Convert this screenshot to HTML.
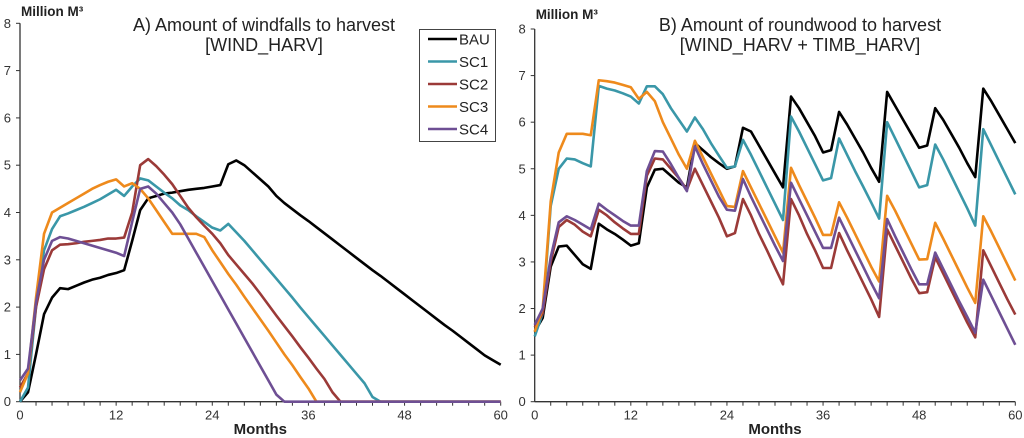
<!DOCTYPE html>
<html><head><meta charset="utf-8"><style>
html,body{margin:0;padding:0;background:#fff;}
svg{display:block;font-family:"Liberation Sans",Arial,sans-serif;}
</style></head><body>
<svg id="c" width="1024" height="438" viewBox="0 0 1024 438"></svg>
<script>
const months=[];for(let i=0;i<=60;i++)months.push(i);
const xTicks=[0,12,24,36,48,60];
const yTicks=[0,1,2,3,4,5,6,7,8];
const seriesNames=["BAU","SC1","SC2","SC3","SC4"];
const seriesColors=["#000000","#3a97a8","#9b3a38","#ee8a1c","#6e4f94"];
const aBAU=[0,0.2,1.0,1.85,2.2,2.4,2.38,2.45,2.52,2.58,2.62,2.68,2.72,2.78,3.4,4.05,4.3,4.35,4.4,4.42,4.45,4.48,4.5,4.52,4.55,4.58,5.02,5.1,5.0,4.85,4.7,4.55,4.35,4.2,4.07,3.94,3.82,3.69,3.56,3.43,3.3,3.17,3.04,2.91,2.78,2.66,2.53,2.4,2.27,2.14,2.01,1.88,1.75,1.62,1.5,1.37,1.24,1.11,0.98,0.88,0.78];
const aSC1=[0,0.3,2.0,3.2,3.65,3.92,3.98,4.05,4.12,4.2,4.28,4.38,4.48,4.35,4.55,4.72,4.68,4.55,4.42,4.3,4.15,4.05,3.92,3.8,3.68,3.62,3.76,3.58,3.4,3.2,3.0,2.8,2.6,2.4,2.2,1.99,1.79,1.59,1.39,1.19,0.99,0.79,0.59,0.39,0.1,0,0,0,0,0,0,0,0,0,0,0,0,0,0,0,0];
const aSC2=[0.3,0.6,2.0,2.8,3.2,3.32,3.33,3.35,3.38,3.4,3.42,3.45,3.45,3.47,4.0,5.0,5.13,4.98,4.8,4.6,4.35,4.1,3.9,3.72,3.55,3.35,3.1,2.9,2.7,2.5,2.28,2.05,1.82,1.6,1.38,1.15,0.93,0.7,0.48,0.2,0,0,0,0,0,0,0,0,0,0,0,0,0,0,0,0,0,0,0,0,0];
const aSC3=[0.2,0.6,2.2,3.55,4.0,4.1,4.2,4.3,4.4,4.5,4.58,4.65,4.7,4.55,4.62,4.5,4.3,4.05,3.8,3.55,3.55,3.55,3.55,3.48,3.2,2.95,2.7,2.47,2.22,1.98,1.74,1.5,1.25,1.0,0.77,0.52,0.28,0,0,0,0,0,0,0,0,0,0,0,0,0,0,0,0,0,0,0,0,0,0,0,0];
const aSC4=[0.45,0.7,2.1,3.0,3.4,3.48,3.45,3.4,3.35,3.3,3.25,3.2,3.15,3.08,3.8,4.5,4.55,4.4,4.2,4.0,3.75,3.45,3.15,2.85,2.55,2.25,1.95,1.65,1.35,1.05,0.75,0.45,0.15,0,0,0,0,0,0,0,0,0,0,0,0,0,0,0,0,0,0,0,0,0,0,0,0,0,0,0,0];
const bBAU=[1.5,1.8,2.9,3.33,3.35,3.15,2.95,2.85,3.82,3.7,3.6,3.48,3.35,3.4,4.6,4.98,5.0,4.85,4.7,4.6,5.55,5.4,5.25,5.12,5.0,5.05,5.88,5.8,5.5,5.2,4.9,4.6,6.55,6.3,6.0,5.7,5.35,5.4,6.22,5.95,5.65,5.35,5.02,4.72,6.65,6.35,6.05,5.75,5.45,5.5,6.3,6.05,5.75,5.45,5.12,4.82,6.72,6.45,6.15,5.85,5.55];
const bSC1=[1.4,1.9,4.2,5.0,5.22,5.2,5.12,5.05,6.78,6.72,6.68,6.62,6.55,6.4,6.77,6.77,6.6,6.3,6.05,5.8,6.1,5.85,5.55,5.28,5.02,5.05,5.62,5.3,4.95,4.6,4.25,3.9,6.12,5.8,5.45,5.1,4.75,4.8,5.65,5.3,4.95,4.62,4.28,3.93,6.0,5.65,5.3,4.95,4.6,4.65,5.52,5.2,4.85,4.5,4.15,3.78,5.85,5.5,5.15,4.8,4.45];
const bSC2=[1.6,1.9,3.0,3.75,3.9,3.8,3.65,3.55,4.12,4.0,3.85,3.72,3.6,3.6,4.85,5.22,5.2,5.0,4.8,4.55,5.0,4.65,4.3,3.95,3.55,3.62,4.35,4.0,3.6,3.25,2.88,2.52,4.35,4.0,3.6,3.25,2.87,2.87,3.62,3.25,2.9,2.55,2.2,1.82,3.7,3.35,3.0,2.65,2.33,2.35,3.1,2.75,2.4,2.05,1.7,1.38,3.25,2.9,2.55,2.2,1.87];
const bSC3=[1.5,2.0,4.3,5.35,5.75,5.75,5.75,5.72,6.9,6.88,6.85,6.8,6.75,6.5,6.65,6.45,6.0,5.65,5.3,5.0,5.6,5.25,4.9,4.55,4.2,4.18,4.95,4.6,4.25,3.9,3.55,3.2,5.02,4.65,4.3,3.95,3.58,3.58,4.28,3.95,3.6,3.25,2.9,2.58,4.42,4.1,3.75,3.4,3.05,3.06,3.84,3.5,3.15,2.8,2.45,2.12,3.98,3.65,3.3,2.95,2.6];
const bSC4=[1.65,2.0,3.1,3.85,3.98,3.9,3.8,3.7,4.25,4.12,4.0,3.88,3.78,3.78,4.95,5.38,5.37,5.1,4.8,4.52,5.48,5.1,4.75,4.4,4.12,4.1,4.78,4.4,4.05,3.7,3.35,3.02,4.7,4.35,4.0,3.65,3.3,3.3,3.95,3.6,3.25,2.9,2.55,2.22,3.92,3.55,3.2,2.85,2.52,2.52,3.2,2.85,2.5,2.15,1.82,1.48,2.62,2.27,1.92,1.57,1.22];

const NS="http://www.w3.org/2000/svg";
const svg=document.getElementById('c');
function mk(tag,attrs,parent,text){const e=document.createElementNS(NS,tag);for(const k in attrs)e.setAttribute(k,attrs[k]);if(text!==undefined)e.textContent=text;(parent||svg).appendChild(e);return e;}

function chart(cfg){
  const g=mk('g',{});
  
  
  const xs=v=>cfg.x0+(cfg.x1-cfg.x0)*v/60;
  const ys=v=>cfg.y0-(cfg.y0-cfg.y1)*v/8;
  const ax=mk('g',{},g);
  
  
  mk('line',{x1:cfg.x0,y1:ys(0),x2:cfg.x0,y2:ys(8),stroke:'#333','stroke-width':1.3},ax);
  mk('line',{x1:cfg.x0,y1:ys(0),x2:cfg.x1,y2:ys(0),stroke:'#333','stroke-width':1.3},ax);
  yTicks.forEach(t=>{
    mk('line',{x1:cfg.x0-4,y1:ys(t),x2:cfg.x0,y2:ys(t),stroke:'#333','stroke-width':1},ax);
    const tl=mk('text',{x:cfg.x0-9,y:ys(t)+4.5,'text-anchor':'end','font-size':13,fill:'#333'},ax,String(t));
    
    
  });
  for(let m=2;m<=60;m+=2){mk('line',{x1:xs(m),y1:ys(0),x2:xs(m),y2:ys(0)+4,stroke:'#333','stroke-width':1},ax);}
  xTicks.forEach(t=>{
    const tl=mk('text',{x:xs(t),y:ys(0)+18,'text-anchor':'middle','font-size':13,fill:'#333'},ax,String(t));
    
    
  });
  const yt=mk('text',{x:cfg.x0+1,y:cfg.ytY,'font-size':13.5,'font-weight':'bold',fill:'#222'},g,'Million M³');
  
  
  const xt=mk('text',{x:(cfg.x0+cfg.x1)/2,y:434,'text-anchor':'middle','font-size':15,'font-weight':'bold',fill:'#222'},g,'Months');
  
  
  const t=mk('text',{x:cfg.tx,y:31,'text-anchor':'middle','font-size':18,fill:'#222'},g);
  
  
  mk('tspan',{x:cfg.tx,dy:0},t,cfg.t1);
  mk('tspan',{x:cfg.tx,dy:20},t,cfg.t2);
  cfg.series.forEach((s,i)=>{
    const p=mk('polyline',{points:s.map((v,j)=>xs(months[j])+','+ys(v)).join(' '),fill:'none',stroke:seriesColors[i],'stroke-width':2.6,'stroke-linejoin':'round'},g);
    
    
  });
}
chart({name:'chart-a-windfalls',x0:20,x1:500.7,y0:401.7,y1:23.3,tx:264,t1:'A) Amount of windfalls to harvest',t2:'[WIND_HARV]',ytY:16,series:[aBAU,aSC1,aSC2,aSC3,aSC4]});
chart({name:'chart-b-roundwood',x0:534.7,x1:1015.3,y0:401.7,y1:29,tx:800,t1:'B) Amount of  roundwood to harvest',t2:'[WIND_HARV + TIMB_HARV]',ytY:19,series:[bBAU,bSC1,bSC2,bSC3,bSC4]});

const lg=mk('g',{});


mk('rect',{x:419.5,y:29.5,width:76,height:112,fill:'#fff',stroke:'#444','stroke-width':1},lg);
seriesNames.forEach((n,i)=>{
  const y=39+i*22.5;
  const e=mk('g',{},lg);
  
  
  mk('line',{x1:428,y1:y,x2:457,y2:y,stroke:seriesColors[i],'stroke-width':2.6},e);
  mk('text',{x:459,y:y+5.5,'font-size':15,fill:'#222'},e,n);
});
</script>
</body></html>
